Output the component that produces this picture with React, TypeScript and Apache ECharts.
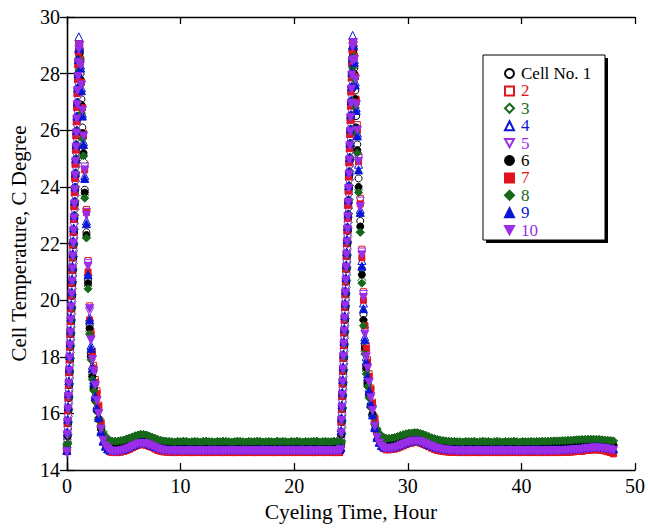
import React, { useEffect, useRef } from "react";
import * as echarts from "echarts";

// ---------- time grids (hours) ----------
const riseHours1 = [0, 0.035, 0.07, 0.105, 0.14, 0.175, 0.21, 0.245, 0.28, 0.315, 0.35, 0.385, 0.42, 0.455, 0.49, 0.525, 0.56, 0.595, 0.63, 0.665, 0.7, 0.735, 0.77, 0.805, 0.84, 0.875, 0.91, 0.945, 0.98, 1.015, 1.05];
const fallHours1 = [1.12, 1.2, 1.28, 1.36, 1.46, 1.57, 1.72, 1.86, 2.0, 2.12, 2.24, 2.36, 2.5, 2.65, 2.8, 3.0, 3.2, 3.4, 3.6, 3.8];
const tailHours1 = [
  4, 4.25, 4.5, 4.75, 5, 5.25, 5.5, 5.75, 6, 6.25,
  6.5, 6.75, 7, 7.25, 7.5, 7.75, 8, 8.25, 8.5, 8.75,
  9, 9.25, 9.5, 9.75, 10, 10.25, 10.5, 10.75, 11, 11.25,
  11.5, 11.75, 12, 12.25, 12.5, 12.75, 13, 13.25, 13.5, 13.75,
  14, 14.25, 14.5, 14.75, 15, 15.25, 15.5, 15.75, 16, 16.25,
  16.5, 16.75, 17, 17.25, 17.5, 17.75, 18, 18.25, 18.5, 18.75,
  19, 19.25, 19.5, 19.75, 20, 20.25, 20.5, 20.75, 21, 21.25,
  21.5, 21.75, 22, 22.25, 22.5, 22.75, 23, 23.25, 23.5, 23.75,
  24,
];
const riseHours2 = [24.1, 24.135, 24.17, 24.205, 24.24, 24.275, 24.31, 24.345, 24.38, 24.415, 24.45, 24.485, 24.52, 24.555, 24.59, 24.625, 24.66, 24.695, 24.73, 24.765, 24.8, 24.835, 24.87, 24.905, 24.94, 24.975, 25.01, 25.045, 25.08, 25.115, 25.15];
const fallHours2 = [25.22, 25.3, 25.38, 25.46, 25.56, 25.67, 25.82, 25.96, 26.1, 26.22, 26.34, 26.46, 26.6, 26.75, 26.9, 27.1, 27.3, 27.5, 27.7, 27.9];
const tailHours2 = [
  28.1, 28.35, 28.6, 28.85, 29.1, 29.35, 29.6, 29.85, 30.1, 30.35,
  30.6, 30.85, 31.1, 31.35, 31.6, 31.85, 32.1, 32.35, 32.6, 32.85,
  33.1, 33.35, 33.6, 33.85, 34.1, 34.35, 34.6, 34.85, 35.1, 35.35,
  35.6, 35.85, 36.1, 36.35, 36.6, 36.85, 37.1, 37.35, 37.6, 37.85,
  38.1, 38.35, 38.6, 38.85, 39.1, 39.35, 39.6, 39.85, 40.1, 40.35,
  40.6, 40.85, 41.1, 41.35, 41.6, 41.85, 42.1, 42.35, 42.6, 42.85,
  43.1, 43.35, 43.6, 43.85, 44.1, 44.35, 44.6, 44.85, 45.1, 45.35,
  45.6, 45.85, 46.1, 46.35, 46.6, 46.85, 47.1, 47.35, 47.6, 47.85,
  48.1,
];

// ---------- cycle 1: heating ramp per cell (°C) ----------
const rise1 = [
  [14.8, 15.15, 15.6, 16.05, 16.5, 16.95, 17.4, 17.85, 18.3, 18.75, 19.2, 19.65, 20.1, 20.55, 21.0, 21.45, 21.9, 22.35, 22.8, 23.3, 23.8, 24.3, 24.8, 25.3, 25.8, 26.3, 26.8, 27.3, 27.8, 28.3, 28.7],
  [14.75, 15.75, 16.2, 16.65, 17.1, 17.55, 18.0, 18.45, 18.9, 19.35, 19.8, 20.25, 20.7, 21.15, 21.6, 22.05, 22.5, 22.95, 23.4, 23.9, 24.4, 24.9, 25.4, 25.9, 26.4, 26.9, 27.4, 27.9, 28.4, 28.8, 29.0],
  [14.9, 14.95, 15.0, 15.45, 15.9, 16.35, 16.8, 17.25, 17.7, 18.15, 18.6, 19.05, 19.5, 19.95, 20.4, 20.85, 21.3, 21.75, 22.2, 22.7, 23.2, 23.7, 24.2, 24.7, 25.2, 25.7, 26.2, 26.7, 27.2, 27.7, 28.3],
  [14.7, 15.45, 15.9, 16.35, 16.8, 17.25, 17.7, 18.15, 18.6, 19.05, 19.5, 19.95, 20.4, 20.85, 21.3, 21.75, 22.2, 22.65, 23.1, 23.6, 24.1, 24.6, 25.1, 25.6, 26.1, 26.6, 27.1, 27.6, 28.1, 28.6, 29.3],
  [14.6, 14.95, 15.4, 15.85, 16.3, 16.75, 17.2, 17.65, 18.1, 18.55, 19.0, 19.45, 19.9, 20.35, 20.8, 21.25, 21.7, 22.15, 22.6, 23.1, 23.6, 24.1, 24.6, 25.1, 25.6, 26.1, 26.6, 27.1, 27.6, 28.1, 28.6],
  [14.75, 14.8, 15.2, 15.65, 16.1, 16.55, 17.0, 17.45, 17.9, 18.35, 18.8, 19.25, 19.7, 20.15, 20.6, 21.05, 21.5, 21.95, 22.4, 22.9, 23.4, 23.9, 24.4, 24.9, 25.4, 25.9, 26.4, 26.9, 27.4, 27.9, 28.5],
  [14.65, 15.65, 16.1, 16.55, 17.0, 17.45, 17.9, 18.35, 18.8, 19.25, 19.7, 20.15, 20.6, 21.05, 21.5, 21.95, 22.4, 22.85, 23.3, 23.8, 24.3, 24.8, 25.3, 25.8, 26.3, 26.8, 27.3, 27.8, 28.3, 28.75, 29.05],
  [14.85, 14.9, 14.95, 15.25, 15.7, 16.15, 16.6, 17.05, 17.5, 17.95, 18.4, 18.85, 19.3, 19.75, 20.2, 20.65, 21.1, 21.55, 22.0, 22.5, 23.0, 23.5, 24.0, 24.5, 25.0, 25.5, 26.0, 26.5, 27.0, 27.5, 28.1],
  [14.7, 15.35, 15.8, 16.25, 16.7, 17.15, 17.6, 18.05, 18.5, 18.95, 19.4, 19.85, 20.3, 20.75, 21.2, 21.65, 22.1, 22.55, 23.0, 23.5, 24.0, 24.5, 25.0, 25.5, 26.0, 26.5, 27.0, 27.5, 28.0, 28.5, 28.9],
  [14.65, 15.25, 15.7, 16.15, 16.6, 17.05, 17.5, 17.95, 18.4, 18.85, 19.3, 19.75, 20.2, 20.65, 21.1, 21.55, 22.0, 22.45, 22.9, 23.4, 23.9, 24.4, 24.9, 25.4, 25.9, 26.4, 26.9, 27.4, 27.9, 28.4, 28.85],
];
// ---------- cycle 1: cooling per cell ----------
const fall1 = [
  [28.8, 28.0, 27.1, 26.1, 25.1, 23.9, 22.4, 20.7, 19.1, 18.1, 17.4, 16.9, 16.5, 16.1, 15.8, 15.45, 15.2, 15.05, 14.95, 14.9],
  [29.0, 28.4, 27.7, 26.8, 25.9, 24.8, 23.2, 21.4, 19.8, 18.9, 18.2, 17.7, 17.2, 16.8, 16.3, 15.7, 15.25, 14.95, 14.78, 14.68],
  [28.6, 27.7, 26.7, 25.8, 24.9, 23.7, 22.2, 20.5, 18.9, 18.0, 17.3, 16.9, 16.5, 16.15, 15.85, 15.55, 15.35, 15.2, 15.1, 15.05],
  [29.0, 28.3, 27.5, 26.6, 25.6, 24.4, 22.8, 21.0, 19.4, 18.4, 17.7, 17.2, 16.7, 16.3, 15.9, 15.4, 15.05, 14.85, 14.75, 14.7],
  [29.0, 28.4, 27.6, 26.7, 25.8, 24.7, 23.1, 21.3, 19.6, 18.6, 17.9, 17.4, 16.95, 16.45, 16.0, 15.45, 15.05, 14.85, 14.72, 14.66],
  [28.7, 27.8, 26.9, 25.9, 25.2, 23.8, 22.3, 20.6, 19.0, 18.0, 17.3, 16.85, 16.45, 16.1, 15.8, 15.45, 15.2, 15.05, 14.95, 14.88],
  [29.0, 28.5, 27.7, 26.8, 25.8, 24.6, 23.1, 21.0, 19.3, 18.8, 18.1, 17.6, 17.1, 16.7, 16.25, 15.65, 15.2, 14.9, 14.74, 14.64],
  [28.5, 27.6, 26.6, 25.7, 25.1, 23.6, 22.2, 20.4, 18.8, 17.9, 17.2, 16.8, 16.45, 16.1, 15.8, 15.5, 15.3, 15.15, 15.07, 15.02],
  [28.9, 28.2, 27.4, 26.5, 25.5, 24.3, 22.7, 20.9, 19.3, 18.3, 17.6, 17.1, 16.6, 16.2, 15.85, 15.35, 15.02, 14.85, 14.76, 14.72],
  [29.0, 28.3, 27.6, 26.7, 25.8, 24.6, 23.0, 21.2, 19.7, 18.6, 17.9, 17.5, 17.0, 16.45, 16.0, 15.45, 15.05, 14.85, 14.75, 14.68],
];

// ---------- cycle 2: heating ramp per cell ----------
const rise2 = [
  [14.85, 15.2, 15.65, 16.1, 16.55, 17.0, 17.45, 17.9, 18.35, 18.8, 19.25, 19.7, 20.15, 20.6, 21.05, 21.5, 21.95, 22.4, 22.85, 23.35, 23.85, 24.35, 24.85, 25.35, 25.85, 26.35, 26.85, 27.35, 27.85, 28.35, 28.8],
  [14.75, 15.8, 16.25, 16.7, 17.15, 17.6, 18.05, 18.5, 18.95, 19.4, 19.85, 20.3, 20.75, 21.2, 21.65, 22.1, 22.55, 23.0, 23.45, 23.95, 24.45, 24.95, 25.45, 25.95, 26.45, 26.95, 27.45, 27.95, 28.45, 28.85, 29.05],
  [14.95, 15.0, 15.05, 15.5, 15.95, 16.4, 16.85, 17.3, 17.75, 18.2, 18.65, 19.1, 19.55, 20.0, 20.45, 20.9, 21.35, 21.8, 22.25, 22.75, 23.25, 23.75, 24.25, 24.75, 25.25, 25.75, 26.25, 26.75, 27.25, 27.75, 28.4],
  [14.8, 15.5, 15.95, 16.4, 16.85, 17.3, 17.75, 18.2, 18.65, 19.1, 19.55, 20.0, 20.45, 20.9, 21.35, 21.8, 22.25, 22.7, 23.15, 23.65, 24.15, 24.65, 25.15, 25.65, 26.15, 26.65, 27.15, 27.65, 28.15, 28.65, 29.35],
  [14.7, 15.0, 15.45, 15.9, 16.35, 16.8, 17.25, 17.7, 18.15, 18.6, 19.05, 19.5, 19.95, 20.4, 20.85, 21.3, 21.75, 22.2, 22.65, 23.15, 23.65, 24.15, 24.65, 25.15, 25.65, 26.15, 26.65, 27.15, 27.65, 28.15, 28.7],
  [14.9, 14.85, 15.25, 15.7, 16.15, 16.6, 17.05, 17.5, 17.95, 18.4, 18.85, 19.3, 19.75, 20.2, 20.65, 21.1, 21.55, 22.0, 22.45, 22.95, 23.45, 23.95, 24.45, 24.95, 25.45, 25.95, 26.45, 26.95, 27.45, 27.95, 28.6],
  [14.7, 15.7, 16.15, 16.6, 17.05, 17.5, 17.95, 18.4, 18.85, 19.3, 19.75, 20.2, 20.65, 21.1, 21.55, 22.0, 22.45, 22.9, 23.35, 23.85, 24.35, 24.85, 25.35, 25.85, 26.35, 26.85, 27.35, 27.85, 28.35, 28.8, 29.1],
  [14.95, 14.95, 15.0, 15.3, 15.75, 16.2, 16.65, 17.1, 17.55, 18.0, 18.45, 18.9, 19.35, 19.8, 20.25, 20.7, 21.15, 21.6, 22.05, 22.55, 23.05, 23.55, 24.05, 24.55, 25.05, 25.55, 26.05, 26.55, 27.05, 27.55, 28.2],
  [14.8, 15.4, 15.85, 16.3, 16.75, 17.2, 17.65, 18.1, 18.55, 19.0, 19.45, 19.9, 20.35, 20.8, 21.25, 21.7, 22.15, 22.6, 23.05, 23.55, 24.05, 24.55, 25.05, 25.55, 26.05, 26.55, 27.05, 27.55, 28.05, 28.55, 29.0],
  [14.72, 15.3, 15.75, 16.2, 16.65, 17.1, 17.55, 18.0, 18.45, 18.9, 19.35, 19.8, 20.25, 20.7, 21.15, 21.6, 22.05, 22.5, 22.95, 23.45, 23.95, 24.45, 24.95, 25.45, 25.95, 26.45, 26.95, 27.45, 27.95, 28.45, 28.95],
];
// ---------- cycle 2: cooling per cell ----------
const fall2 = [
  [28.9, 28.2, 27.4, 26.5, 25.5, 24.3, 22.8, 21.1, 19.5, 18.4, 17.7, 17.1, 16.7, 16.3, 16.0, 15.65, 15.4, 15.2, 15.1, 15.0],
  [29.1, 28.6, 27.9, 27.1, 26.2, 25.1, 23.6, 21.8, 20.3, 19.1, 18.4, 17.9, 17.4, 16.9, 16.4, 15.85, 15.4, 15.1, 14.9, 14.78],
  [28.7, 27.9, 26.9, 26.0, 25.0, 23.9, 22.4, 20.7, 19.3, 18.2, 17.5, 17.0, 16.6, 16.25, 15.95, 15.65, 15.45, 15.3, 15.2, 15.15],
  [29.1, 28.5, 27.7, 26.8, 25.9, 24.8, 23.2, 21.4, 19.9, 18.7, 18.0, 17.4, 16.9, 16.45, 16.05, 15.55, 15.2, 15.0, 14.88, 14.82],
  [29.0, 28.5, 27.8, 26.9, 26.0, 25.0, 23.5, 21.7, 20.2, 18.9, 18.1, 17.6, 17.1, 16.6, 16.15, 15.6, 15.2, 14.98, 14.85, 14.78],
  [28.8, 28.0, 27.1, 26.1, 25.3, 24.0, 22.6, 20.9, 19.3, 18.3, 17.6, 17.05, 16.65, 16.25, 15.95, 15.6, 15.35, 15.2, 15.08, 15.0],
  [29.1, 28.6, 27.9, 27.0, 26.0, 24.9, 23.4, 21.5, 20.0, 19.1, 18.3, 17.8, 17.3, 16.85, 16.35, 15.8, 15.35, 15.05, 14.86, 14.76],
  [28.6, 27.8, 26.8, 25.9, 25.2, 23.8, 22.4, 20.6, 19.1, 18.1, 17.4, 16.95, 16.55, 16.2, 15.9, 15.6, 15.42, 15.28, 15.18, 15.14],
  [29.0, 28.4, 27.6, 26.7, 25.8, 24.6, 23.1, 21.2, 19.7, 18.6, 17.85, 17.3, 16.8, 16.35, 15.95, 15.5, 15.15, 14.98, 14.87, 14.82],
  [29.1, 28.5, 27.8, 26.9, 26.0, 24.9, 23.3, 21.6, 20.1, 18.8, 18.0, 17.6, 17.1, 16.55, 16.1, 15.55, 15.15, 14.95, 14.84, 14.78],
];

// ---------- slow tails after cooling (cells of one colour overlap) ----------
const tailBlack1 = [
  14.86, 14.86, 14.86, 14.88, 14.9, 14.94, 14.97, 15.01, 15.05, 15.08,
  15.1, 15.1, 15.08, 15.04, 15.0, 14.96, 14.92, 14.89, 14.87, 14.85,
  14.84, 14.83, 14.83, 14.84, 14.83, 14.83, 14.84, 14.83, 14.83, 14.83,
  14.84, 14.83, 14.83, 14.83, 14.84, 14.83, 14.83, 14.84, 14.83, 14.83,
  14.83, 14.84, 14.83, 14.83, 14.83, 14.84, 14.83, 14.83, 14.84, 14.83,
  14.83, 14.83, 14.84, 14.83, 14.83, 14.84, 14.83, 14.83, 14.83, 14.84,
  14.83, 14.83, 14.84, 14.83, 14.83, 14.83, 14.84, 14.83, 14.83, 14.84,
  14.83, 14.83, 14.83, 14.84, 14.83, 14.83, 14.84, 14.83, 14.83, 14.83,
  14.83,
];
const tailRed1 = [
  14.62, 14.62, 14.62, 14.64, 14.66, 14.7, 14.74, 14.79, 14.84, 14.88,
  14.9, 14.9, 14.88, 14.84, 14.8, 14.75, 14.7, 14.67, 14.65, 14.64,
  14.63, 14.62, 14.62, 14.63, 14.62, 14.62, 14.63, 14.62, 14.62, 14.62,
  14.63, 14.62, 14.62, 14.62, 14.63, 14.62, 14.62, 14.63, 14.62, 14.62,
  14.62, 14.63, 14.62, 14.62, 14.62, 14.63, 14.62, 14.62, 14.63, 14.62,
  14.62, 14.62, 14.63, 14.62, 14.62, 14.63, 14.62, 14.62, 14.62, 14.63,
  14.62, 14.62, 14.63, 14.62, 14.62, 14.62, 14.63, 14.62, 14.62, 14.63,
  14.62, 14.62, 14.62, 14.63, 14.62, 14.62, 14.63, 14.62, 14.62, 14.62,
  14.62,
];
const tailGreen1 = [
  15.02, 15.02, 15.02, 15.04, 15.06, 15.1, 15.13, 15.17, 15.21, 15.24,
  15.26, 15.26, 15.24, 15.2, 15.16, 15.12, 15.08, 15.05, 15.03, 15.02,
  15.01, 15.0, 14.99, 15.01, 15.0, 15.02, 15.01, 14.99, 15.0, 15.01,
  15.0, 14.99, 15.01, 15.02, 15.0, 15.0, 14.99, 15.01, 15.0, 15.02,
  15.01, 15.0, 14.99, 15.0, 15.02, 15.01, 15.0, 14.99, 15.01, 15.0,
  15.0, 15.02, 15.01, 14.99, 15.0, 15.01, 15.0, 14.99, 15.02, 15.0,
  15.01, 15.0, 14.99, 15.01, 15.0, 15.02, 15.0, 14.99, 15.01, 15.0,
  15.0, 15.01, 15.02, 14.99, 15.0, 15.01, 15.0, 15.0, 15.02, 15.01,
  15.0,
];
const tailBlue1 = [
  14.71, 14.71, 14.71, 14.73, 14.75, 14.79, 14.83, 14.88, 14.92, 14.96,
  14.98, 14.98, 14.96, 14.92, 14.88, 14.84, 14.8, 14.77, 14.75, 14.74,
  14.73, 14.73, 14.72, 14.73, 14.73, 14.72, 14.73, 14.73, 14.73, 14.72,
  14.73, 14.73, 14.72, 14.73, 14.73, 14.73, 14.72, 14.73, 14.73, 14.72,
  14.73, 14.73, 14.73, 14.72, 14.73, 14.73, 14.72, 14.73, 14.73, 14.73,
  14.72, 14.73, 14.73, 14.73, 14.72, 14.73, 14.73, 14.72, 14.73, 14.73,
  14.73, 14.72, 14.73, 14.73, 14.72, 14.73, 14.73, 14.73, 14.72, 14.73,
  14.73, 14.72, 14.73, 14.73, 14.73, 14.72, 14.73, 14.73, 14.72, 14.73,
  14.73,
];
const tailPurple1 = [
  14.66, 14.66, 14.66, 14.68, 14.7, 14.74, 14.78, 14.83, 14.88, 14.92,
  14.94, 14.94, 14.92, 14.88, 14.84, 14.79, 14.75, 14.72, 14.7, 14.69,
  14.68, 14.68, 14.67, 14.68, 14.68, 14.67, 14.68, 14.68, 14.68, 14.67,
  14.68, 14.68, 14.67, 14.68, 14.68, 14.68, 14.67, 14.68, 14.68, 14.67,
  14.68, 14.68, 14.68, 14.67, 14.68, 14.68, 14.67, 14.68, 14.68, 14.68,
  14.67, 14.68, 14.68, 14.68, 14.67, 14.68, 14.68, 14.67, 14.68, 14.68,
  14.68, 14.67, 14.68, 14.68, 14.67, 14.68, 14.68, 14.68, 14.67, 14.68,
  14.68, 14.67, 14.68, 14.68, 14.68, 14.67, 14.68, 14.68, 14.67, 14.68,
  14.68,
];
const tailBlack2 = [
  14.95, 14.95, 14.96, 14.98, 15.01, 15.05, 15.08, 15.12, 15.15, 15.17,
  15.19, 15.19, 15.17, 15.13, 15.09, 15.04, 15.0, 14.96, 14.93, 14.9,
  14.88, 14.87, 14.86, 14.85, 14.84, 14.84, 14.83, 14.83, 14.84, 14.83,
  14.83, 14.84, 14.83, 14.83, 14.83, 14.84, 14.83, 14.83, 14.84, 14.83,
  14.83, 14.83, 14.84, 14.83, 14.83, 14.84, 14.83, 14.83, 14.83, 14.84,
  14.83, 14.83, 14.84, 14.83, 14.83, 14.83, 14.84, 14.83, 14.83, 14.84,
  14.84, 14.84, 14.85, 14.85, 14.86, 14.87, 14.88, 14.89, 14.9, 14.91,
  14.92, 14.93, 14.94, 14.94, 14.94, 14.94, 14.93, 14.92, 14.91, 14.9,
  14.88,
];
const tailRed2 = [
  14.72, 14.72, 14.73, 14.75, 14.78, 14.82, 14.86, 14.9, 14.94, 14.96,
  14.98, 14.98, 14.96, 14.92, 14.88, 14.83, 14.78, 14.74, 14.7, 14.68,
  14.66, 14.65, 14.64, 14.63, 14.63, 14.62, 14.62, 14.63, 14.62, 14.62,
  14.62, 14.63, 14.62, 14.62, 14.62, 14.63, 14.62, 14.62, 14.63, 14.62,
  14.62, 14.62, 14.63, 14.62, 14.62, 14.63, 14.62, 14.62, 14.62, 14.63,
  14.62, 14.62, 14.63, 14.62, 14.62, 14.62, 14.63, 14.62, 14.62, 14.63,
  14.62, 14.62, 14.63, 14.63, 14.64, 14.64, 14.65, 14.66, 14.66, 14.67,
  14.69, 14.7, 14.71, 14.72, 14.72, 14.71, 14.7, 14.68, 14.65, 14.62,
  14.58,
];
const tailGreen2 = [
  15.12, 15.12, 15.13, 15.15, 15.18, 15.22, 15.25, 15.28, 15.3, 15.31,
  15.32, 15.32, 15.29, 15.26, 15.22, 15.18, 15.14, 15.11, 15.08, 15.06,
  15.04, 15.03, 15.02, 15.01, 15.01, 15.0, 15.0, 14.99, 15.01, 15.0,
  15.0, 15.01, 14.99, 15.0, 15.02, 15.0, 15.01, 14.99, 15.0, 15.01,
  15.0, 14.99, 15.01, 15.0, 15.0, 15.02, 15.0, 14.99, 15.01, 15.0,
  15.0, 15.01, 15.0, 15.01, 15.01, 15.02, 15.01, 15.02, 15.02, 15.03,
  15.03, 15.03, 15.04, 15.04, 15.05, 15.05, 15.06, 15.07, 15.07, 15.08,
  15.08, 15.09, 15.09, 15.09, 15.08, 15.08, 15.07, 15.06, 15.05, 15.04,
  15.03,
];
const tailBlue2 = [
  14.8, 14.8, 14.81, 14.83, 14.86, 14.9, 14.94, 14.98, 15.02, 15.04,
  15.06, 15.06, 15.04, 15.0, 14.96, 14.91, 14.87, 14.83, 14.8, 14.78,
  14.76, 14.75, 14.74, 14.74, 14.73, 14.73, 14.73, 14.72, 14.73, 14.73,
  14.73, 14.72, 14.73, 14.73, 14.73, 14.72, 14.73, 14.73, 14.72, 14.73,
  14.73, 14.73, 14.72, 14.73, 14.73, 14.73, 14.72, 14.73, 14.73, 14.72,
  14.73, 14.73, 14.73, 14.72, 14.73, 14.73, 14.72, 14.73, 14.73, 14.73,
  14.73, 14.73, 14.74, 14.74, 14.75, 14.75, 14.76, 14.77, 14.77, 14.78,
  14.8, 14.81, 14.82, 14.83, 14.83, 14.83, 14.82, 14.81, 14.79, 14.77,
  14.75,
];
const tailPurple2 = [
  14.76, 14.76, 14.77, 14.79, 14.82, 14.86, 14.9, 14.94, 14.98, 15.0,
  15.02, 15.02, 15.0, 14.96, 14.92, 14.87, 14.83, 14.79, 14.76, 14.74,
  14.72, 14.71, 14.7, 14.69, 14.69, 14.68, 14.68, 14.67, 14.68, 14.68,
  14.68, 14.67, 14.68, 14.68, 14.68, 14.67, 14.68, 14.68, 14.67, 14.68,
  14.68, 14.68, 14.67, 14.68, 14.68, 14.68, 14.67, 14.68, 14.68, 14.67,
  14.68, 14.68, 14.68, 14.67, 14.68, 14.68, 14.67, 14.68, 14.68, 14.68,
  14.68, 14.68, 14.69, 14.69, 14.7, 14.7, 14.71, 14.72, 14.72, 14.73,
  14.75, 14.76, 14.77, 14.78, 14.78, 14.78, 14.77, 14.76, 14.74, 14.72,
  14.7,
];

const tails1 = [tailBlack1, tailRed1, tailGreen1, tailBlue1, tailPurple1];
const tails2 = [tailBlack2, tailRed2, tailGreen2, tailBlue2, tailPurple2];

// ---------- legend / axes ----------
const cellNames = ["Cell No. 1", "2", "3", "4", "5", "6", "7", "8", "9", "10"];
const xTicks = { min: 0, max: 50, interval: 10 };
const yTicks = { min: 14, max: 30, interval: 2 };

const BLACK = "#000000";
const RED = "#e3131b";
const GREEN = "#17681a";
const BLUE = "#0b16d4";
const PURPLE = "#9a2ee8";
const groupColors = [BLACK, RED, GREEN, BLUE, PURPLE];
const TRI_DOWN = "path://M0,0L10,0L5,9Z";
const groupSymbols = ["circle", "rect", "diamond", "triangle", TRI_DOWN];
const groupSizes = [7, 6, 8, 8, 8];
const FONT = "'Liberation Serif', 'Times New Roman', serif";

export default function App() {
  const ref = useRef<HTMLDivElement>(null);
  useEffect(() => {
    document.body.style.margin = "0";
    const chart = echarts.init(ref.current!, null, { renderer: "svg" });
    const series = cellNames.map((name, c) => {
      const g = c % 5;
      const filled = c >= 5;
      const segments: [number[], number[]][] = [
        [riseHours1, rise1[c]],
        [fallHours1, fall1[c]],
        [tailHours1, tails1[g]],
        [riseHours2, rise2[c]],
        [fallHours2, fall2[c]],
        [tailHours2, tails2[g]],
      ];
      const data: number[][] = [];
      segments.forEach(([hs, vs]) => {
        const n = Math.min(hs.length, vs.length);
        for (let i = 0; i < n; i++) data.push([hs[i], vs[i]]);
      });
      const col = groupColors[g];
      return {
        name,
        type: "scatter",
        xAxisIndex: 0,
        yAxisIndex: 0,
        symbol: groupSymbols[g],
        symbolSize: groupSizes[g],
        silent: true,
        itemStyle: { color: filled ? col : "#ffffff", borderColor: col, borderWidth: 1, opacity: 1 },
        emphasis: { disabled: true },
        data,
      };
    });
    const axisCommon = {
      axisLine: { show: true, lineStyle: { color: BLACK, width: 1.3 } },
      axisTick: { show: true, inside: true, length: 7, lineStyle: { color: BLACK, width: 1.3 } },
      splitLine: { show: false },
    };
    chart.setOption({
      animation: false,
      textStyle: { fontFamily: FONT },
      grid: { left: 63, right: 10, top: 17, bottom: 52, containLabel: false },
      xAxis: [
        {
          type: "value", ...xTicks, position: "bottom", ...axisCommon,
          name: "Cyeling Time, Hour", nameLocation: "middle", nameGap: 30,
          nameTextStyle: { fontSize: 21.5, color: BLACK, fontFamily: FONT },
          axisLabel: { fontSize: 20, color: BLACK, margin: 6, fontFamily: FONT },
        },
        {
          type: "value", ...xTicks, position: "top", ...axisCommon,
          axisLabel: { show: false },
        },
      ],
      yAxis: [
        {
          type: "value", ...yTicks, position: "left", ...axisCommon,
          name: "Cell Temperature, C Degree", nameLocation: "middle", nameGap: 32,
          nameTextStyle: { fontSize: 21, color: BLACK, fontFamily: FONT },
          axisLabel: { fontSize: 20, color: BLACK, margin: 7, fontFamily: FONT },
        },
        {
          type: "value", ...yTicks, position: "right", ...axisCommon,
          axisLabel: { show: false },
        },
      ],
      legend: {
        orient: "vertical",
        left: 504,
        top: 65,
        padding: 0,
        itemGap: 0.4,
        itemWidth: 9,
        itemHeight: 9,
        selectedMode: false,
        z: 10,
        textStyle: { fontSize: 17, fontFamily: FONT, lineHeight: 17, padding: [0, 0, 0, 2] },
        data: cellNames.map((name, c) => ({ name, textStyle: { color: groupColors[c % 5] } })),
      },
      graphic: [
        { type: "rect", z: 5, shape: { x: 486, y: 58, width: 122, height: 185 }, style: { fill: BLACK } },
        { type: "rect", z: 6, shape: { x: 483, y: 55, width: 122, height: 185 }, style: { fill: "#ffffff", stroke: BLACK, lineWidth: 1 } },
      ],
      series,
    });
    return () => chart.dispose();
  }, []);
  return <div ref={ref} style={{ width: 648, height: 528 }} />;
}
